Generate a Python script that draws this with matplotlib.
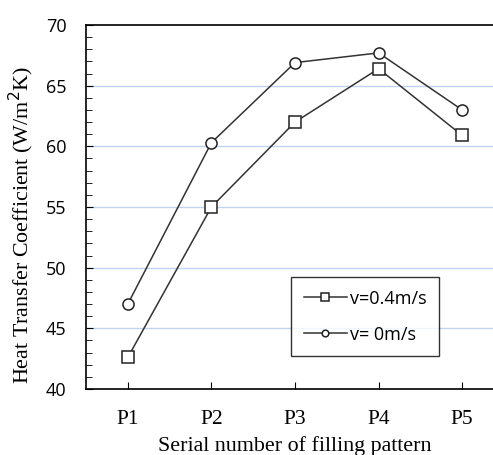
import matplotlib.pyplot as plt
from matplotlib.ticker import MultipleLocator

# data
patterns = ['P1', 'P2', 'P3', 'P4', 'P5']
v04 = [42.6, 55.0, 62.0, 66.4, 60.9]
v0 = [47.0, 60.3, 66.9, 67.7, 63.0]

fig = plt.figure(figsize=(4.93, 4.55), dpi=100)
# right spine sits just outside the image in the reference
ax = fig.add_axes([86 / 493, 66 / 455, 418 / 493, 364 / 455])

x = range(len(patterns))
ax.plot(x, v04, color='#333333', lw=1.1, marker='s', ms=8.5, mfc='white',
        mec='#222222', mew=1.1, label='v=0.4m/s', zorder=3)
ax.plot(x, v0, color='#333333', lw=1.1, marker='o', ms=8, mfc='white',
        mec='#222222', mew=1.1, label='v= 0m/s', zorder=3)

ax.set_xlim(-0.5, 4.5)
ax.set_ylim(40, 70)
ax.set_xticks(list(x))
ax.set_xticklabels(patterns, fontfamily='Liberation Serif', fontsize=15.5)
ax.yaxis.set_major_locator(MultipleLocator(5))
ax.yaxis.set_minor_locator(MultipleLocator(1))
for lab in ax.get_yticklabels():
    lab.set_fontfamily('Open Sans')
    lab.set_fontsize(13)

for g in [45, 50, 55, 60, 65]:
    ax.axhline(g, color='#c0d3ef', lw=1.0, zorder=1)

ax.tick_params(axis='both', which='both', direction='in', color='black')
ax.tick_params(axis='y', which='major', length=5, pad=14)
ax.tick_params(axis='y', which='minor', length=4)
ax.tick_params(axis='x', length=5, pad=15)
for s in ax.spines.values():
    s.set_linewidth(1.2)

ax.set_xlabel('Serial number of filling pattern', fontfamily='Liberation Serif',
              fontsize=15.8, labelpad=5)
ax.set_ylabel('Heat Transfer Coefficient (W/m$^2$K)', fontfamily='Liberation Serif',
              fontsize=15.8)
ax.yaxis.set_label_coords(-0.12, 0.45)

leg = ax.legend(loc='upper left', bbox_to_anchor=(205 / 418, 112 / 364),
                prop={'family': 'Open Sans', 'size': 13}, frameon=True,
                fancybox=False, edgecolor='black', markerscale=0.6,
                handlelength=2.4, borderpad=0.7, labelspacing=1.0,
                handletextpad=0.15, borderaxespad=0)
leg.get_frame().set_linewidth(1.0)

fig.savefig('out.png', dpi=100)
